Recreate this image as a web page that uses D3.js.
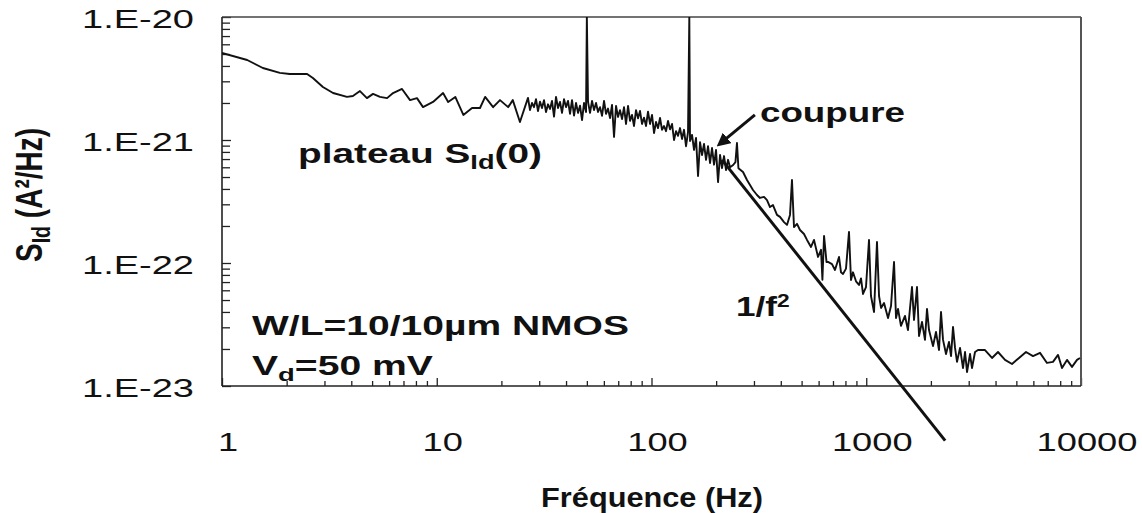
<!DOCTYPE html>
<html>
<head>
<meta charset="utf-8">
<script src="https://cdn.jsdelivr.net/npm/d3@7"></script>
<style>
  body { margin: 0; background: #fff; }
  svg text { font-family: "Liberation Sans", Arial, sans-serif; fill: #111; }
</style>
</head>
<body>
<div id="chart"></div>
<script>

// smooth start and plateau
const lowFreq = [1.00, 1.31, 1.55, 1.86, 2.07, 2.49, 2.65, 2.95, 3.29, 3.82, 4.07, 4.39, 4.73, 5.05, 5.44, 5.87,
  6.26, 6.89, 7.51, 8.09, 8.63, 9.61, 10.7, 11.3, 12.2, 13.3, 14.6, 15.9, 16.8, 18.3, 19.7, 21.5, 22.6, 24.4];
const lowSid = [5.1e-21, 4.47e-21, 3.85e-21, 3.51e-21, 3.44e-21, 3.44e-21, 3.19e-21, 2.70e-21, 2.41e-21, 2.24e-21,
  2.28e-21, 2.50e-21, 2.19e-21, 2.37e-21, 2.24e-21, 2.19e-21, 2.41e-21, 2.60e-21, 2.11e-21, 2.19e-21, 1.85e-21,
  2.04e-21, 2.41e-21, 2.04e-21, 2.24e-21, 1.60e-21, 1.82e-21, 1.82e-21, 2.24e-21, 1.85e-21, 2.11e-21, 1.85e-21,
  2.11e-21, 1.40e-21];

// noisy band up to the cut-off, with the 50 Hz and 150 Hz lines
const bandFreq = [26.60, 27.18, 27.77, 28.37, 28.98, 29.61, 30.25, 30.91, 31.58, 32.27, 32.97, 33.68, 34.41, 35.16,
  35.92, 36.70, 37.50, 38.31, 39.14, 39.99, 40.86, 41.75, 42.65, 43.58, 44.52, 45.49, 46.47, 47.48, 48.51, 49.56,
  50.00,
  50.63, 51.73, 52.85, 54.00, 55.17, 56.36, 57.59, 58.83, 60.11, 61.41, 62.74, 64.10, 65.49, 66.91, 68.36, 69.84,
  71.36, 72.90, 74.48, 76.10, 77.75, 79.43, 81.15, 82.91, 84.71, 86.55, 88.42, 90.34, 92.30, 94.30, 96.34, 98.43,
  100.56, 102.74, 104.97, 107.25, 109.57, 111.95, 114.37, 116.85, 119.39, 121.97, 124.62, 127.32, 130.08, 132.90,
  135.78, 138.72, 141.73, 144.80, 147.94,
  150.00,
  151.15, 154.42, 157.77, 161.19, 164.69, 168.26, 171.91, 175.63, 179.44, 183.33, 187.30, 191.36, 195.51, 199.75,
  204.08, 208.50, 212.92, 217.64, 222.36, 227.18, 232.10];
const bandSid = [2.20e-21, 1.75e-21, 2.00e-21, 1.85e-21, 2.15e-21, 1.72e-21, 2.05e-21, 1.82e-21, 2.11e-21, 1.69e-21,
  1.95e-21, 1.79e-21, 2.08e-21, 1.55e-21, 2.24e-21, 1.82e-21, 2.04e-21, 1.66e-21, 2.15e-21, 1.85e-21,
  2.08e-21, 1.63e-21, 2.11e-21, 1.58e-21, 2.00e-21, 1.66e-21, 1.90e-21, 1.45e-21, 2.00e-21, 1.69e-21,
  1.0e-20,
  2.04e-21, 1.66e-21, 2.08e-21, 1.75e-21, 2.00e-21, 1.69e-21, 1.85e-21, 1.57e-21, 2.08e-21, 1.63e-21,
  1.80e-21, 1.51e-21, 1.93e-21, 1.06e-21, 1.89e-21, 1.54e-21, 1.75e-21, 1.48e-21, 1.85e-21, 1.35e-21,
  1.89e-21, 1.43e-21, 1.60e-21, 1.30e-21, 1.75e-21, 1.50e-21, 1.72e-21, 1.35e-21, 1.52e-21, 1.30e-21,
  1.70e-21, 1.35e-21, 1.60e-21, 1.14e-21, 1.40e-21, 1.25e-21, 1.51e-21, 1.21e-21, 1.30e-21, 1.18e-21,
  1.43e-21, 1.22e-21, 1.35e-21, 1.00e-21, 1.18e-21, 1.08e-21, 1.25e-21, 1.02e-21, 1.21e-21, 8.9e-22,
  1.16e-21,
  1.0e-20,
  9.8e-22, 1.10e-21, 8.3e-22, 1.04e-21, 5.1e-22, 9.6e-22, 7.55e-22, 9.3e-22, 6.9e-22, 8.9e-22,
  6.5e-22, 8.6e-22, 6.3e-22, 8.3e-22, 4.55e-22, 7.55e-22, 5.9e-22, 7.4e-22, 5.7e-22, 6.9e-22,
  6.0e-22];

// roll-off above the cut-off, with mains harmonics
const rollFreq = [240, 246, 250, 254, 266.8, 278.4, 287.5, 296.9, 309.9, 320.1, 334.2, 345, 356.3, 367.9, 384,
  396.6, 414, 427.5, 441.5, 451, 460.8, 476, 491.5, 513, 529.8, 553, 571.2, 596.3, 615.7, 625, 636, 653, 663.7,
  692.7, 715.3, 746.7, 762.9, 779.4, 804.8, 831.1, 849.1, 867.5, 896, 925.2, 945.4, 965.8, 997.3, 1030, 1052,
  1087, 1122, 1147, 1172, 1210, 1263, 1304, 1347, 1376, 1406, 1451, 1515, 1564, 1633, 1669, 1723, 1761, 1818,
  1877, 1918, 1960, 2046, 2112, 2182, 2229, 2278, 2352, 2428, 2482, 2535, 2591, 2647, 2733, 2822, 2884, 2946,
  3043, 3108, 3210];
const rollSid = [6.26e-22, 6.6e-22, 9.45e-22, 5.9e-22, 5.49e-22, 4.73e-22, 4.31e-22, 3.92e-22, 3.57e-22, 3.38e-22,
  3.45e-22, 3.25e-22, 2.85e-22, 2.96e-22, 2.46e-22, 2.37e-22, 2.15e-22, 2.04e-22, 2.46e-22, 4.73e-22,
  1.96e-22, 2.08e-22, 1.855e-22, 1.72e-22, 1.54e-22, 1.35e-22, 1.54e-22, 1.12e-22, 1.28e-22, 7.3e-23,
  1.66e-22, 1.02e-22, 1.02e-22, 9.8e-23, 8.77e-23, 1.12e-22, 8.4e-23, 8.14e-23, 9.0e-23, 1.79e-22,
  7.28e-23, 8.4e-23, 7.1e-23, 6.63e-23, 7.5e-23, 5.6e-23, 6.38e-23, 1.54e-22, 5.39e-23, 4.0e-23,
  1.48e-22, 5.39e-23, 4.31e-23, 4.73e-23, 3.57e-23, 4.47e-23, 1.02e-22, 3.57e-23, 4.23e-23, 3.08e-23,
  3.71e-23, 2.85e-23, 6.38e-23, 3.44e-23, 6.38e-23, 2.55e-23, 3.32e-23, 2.37e-23, 4.23e-23, 2.85e-23,
  2.11e-23, 2.75e-23, 1.96e-23, 4.0e-23, 2.37e-23, 1.82e-23, 2.28e-23, 1.75e-23, 3.02e-23, 2.04e-23,
  1.57e-23, 2.04e-23, 1.40e-23, 1.89e-23, 1.30e-23, 1.82e-23, 1.40e-23, 1.89e-23];

// background floor
const tailFreq = [3314, 3573, 3852, 4107, 4428, 4772, 5144, 5546, 5977, 6444, 6945, 7406, 7816, 8156, 8606, 9080,
  9581, 9893];
const tailSid = [1.96e-23, 1.96e-23, 1.69e-23, 1.89e-23, 1.63e-23, 1.51e-23, 1.69e-23, 1.89e-23, 1.75e-23, 1.86e-23,
  1.54e-23, 1.57e-23, 1.79e-23, 1.40e-23, 1.63e-23, 1.43e-23, 1.63e-23, 1.69e-23];

// straight 1/f² guide line, two end points
const fitFreq = [213, 2330];
const fitSid = [6.9e-22, 3.6e-24];

// "coupure" arrow, tail then tip
const arrowFreq = [303, 208];
const arrowSid = [1.6e-21, 9.3e-22];

const xTicks = [1, 10, 100, 1000, 10000];
const xTickLabels = ["1", "10", "100", "1000", "10000"];
const yTicks = [1e-20, 1e-21, 1e-22, 1e-23];
const yTickLabels = ["1.E-20", "1.E-21", "1.E-22", "1.E-23"];

const freq = lowFreq.concat(bandFreq, rollFreq, tailFreq);
const sid = lowSid.concat(bandSid, rollSid, tailSid);

const margin = {top: 17, right: 61, bottom: 127, left: 222},
    width = 1142 - margin.left - margin.right,
    height = 513 - margin.top - margin.bottom;

const svg = d3.select("#chart")
  .append("svg")
    .attr("width", 1142)
    .attr("height", 513);

const plot = svg.append("g")
    .attr("transform", `translate(${margin.left},${margin.top})`);

const x = d3.scaleLog().domain([1, 10000]).range([0, width]);
const y = d3.scaleLog().domain([1e-23, 1e-20]).range([height, 0]);

// the scan is stretched sideways, so text gets a horizontal scale
const SX = 1.45;

function addText(parent, px, py, anchor, size, weight, build, sx, rotate) {
  const g = parent.append("g");
  const t = g.append("text")
      .attr("text-anchor", anchor)
      .style("font-size", size + "px")
      .style("font-weight", weight);
  build(t);
  const r = rotate ? ` rotate(${rotate})` : "";
  const s = rotate ? `scale(1,${sx})` : `scale(${sx},1)`;
  g.attr("transform", `translate(${px},${py})${r} ${s}`);
  return {g, t};
}

// fit a text to a given width (horizontal stretch)
function fitWidth(parent, px, py, anchor, size, weight, build, w) {
  const o = addText(parent, px, py, anchor, size, weight, build, 1);
  const bw = o.t.node().getBBox().width;
  o.g.attr("transform", `translate(${px},${py}) scale(${w / bw},1)`);
  return o;
}

// ticks, all inward
const minorX = x.ticks().filter(v => !xTicks.includes(v));
const minorY = y.ticks().filter(v => !yTicks.some(t => Math.abs(t - v) / t < 1e-6));

plot.append("g")
    .attr("transform", `translate(0,${height})`)
    .call(d3.axisBottom(x).tickValues(minorX).tickSize(-5).tickSizeOuter(0).tickFormat(""))
    .call(g => g.select(".domain").remove());
plot.append("g")
    .attr("transform", `translate(0,${height})`)
    .call(d3.axisBottom(x).tickValues(xTicks).tickSize(-8).tickSizeOuter(0).tickFormat(""))
    .call(g => g.select(".domain").remove());
plot.append("g")
    .call(d3.axisLeft(y).tickValues(minorY).tickSize(-8).tickSizeOuter(0).tickFormat(""))
    .call(g => g.select(".domain").remove());
plot.append("g")
    .call(d3.axisLeft(y).tickValues(yTicks).tickSize(-9).tickSizeOuter(0).tickFormat(""))
    .call(g => g.select(".domain").remove());
plot.selectAll(".tick line").attr("stroke", "#222").attr("stroke-width", 1.3);

// frame
plot.append("line").attr("x1", 0).attr("x2", width).attr("y1", 0).attr("y2", 0)
    .attr("stroke", "#444").attr("stroke-width", 1.4);
plot.append("line").attr("x1", width).attr("x2", width).attr("y1", 0).attr("y2", height)
    .attr("stroke", "#555").attr("stroke-width", 2);
plot.append("line").attr("x1", 0).attr("x2", 0).attr("y1", 0).attr("y2", height)
    .attr("stroke", "#222").attr("stroke-width", 1.6);
plot.append("line").attr("x1", 0).attr("x2", width).attr("y1", height).attr("y2", height)
    .attr("stroke", "#222").attr("stroke-width", 1.6);

// tick labels
xTicks.forEach((v, i) => {
  addText(svg, margin.left + x(v) + 6, 451, "middle", 25, "normal",
    t => t.text(xTickLabels[i]), SX);
});
yTicks.forEach((v, i) => {
  addText(svg, 194, margin.top + y(v) + 11, "end", 25, "normal",
    t => t.text(yTickLabels[i]), 1.52);
});

// spectrum curve
plot.append("clipPath").attr("id", "clip")
  .append("rect").attr("width", width).attr("height", height);

const line = d3.line()
    .x(d => x(d[0]))
    .y(d => y(d[1]));

plot.append("path")
    .datum(d3.zip(freq, sid))
    .attr("clip-path", "url(#clip)")
    .attr("fill", "none")
    .attr("stroke", "#111")
    .attr("stroke-width", 1.9)
    .attr("stroke-linejoin", "round")
    .attr("d", line);

// 1/f² guide (runs past the bottom axis)
plot.append("path")
    .datum(d3.zip(fitFreq, fitSid))
    .attr("fill", "none")
    .attr("stroke", "#111")
    .attr("stroke-width", 3)
    .attr("d", line);

// arrow
svg.append("defs").append("marker")
    .attr("id", "head")
    .attr("viewBox", "0 0 10 10")
    .attr("refX", 7).attr("refY", 5)
    .attr("markerWidth", 4.5).attr("markerHeight", 4.5)
    .attr("orient", "auto")
  .append("path").attr("d", "M0,0 L10,5 L0,10 z").attr("fill", "#111");

plot.append("path")
    .datum(d3.zip(arrowFreq, arrowSid))
    .attr("fill", "none")
    .attr("stroke", "#111")
    .attr("stroke-width", 3)
    .attr("marker-end", "url(#head)")
    .attr("d", line);

// annotations
function sub(t, s) {
  t.append("tspan").attr("dy", 6).style("font-size", "70%").text(s);
}
fitWidth(svg, 298, 163, "start", 28, "bold", t => {
  t.append("tspan").text("plateau S");
  sub(t, "Id");
  t.append("tspan").attr("dy", -6).text("(0)");
}, 244);
fitWidth(svg, 760, 122, "start", 28, "bold", t => t.text("coupure"), 145);
fitWidth(svg, 252, 335, "start", 27, "bold", t => t.text("W/L=10/10µm NMOS"), 377);
fitWidth(svg, 252, 375, "start", 27, "bold", t => {
  t.append("tspan").text("V");
  sub(t, "d");
  t.append("tspan").attr("dy", -6).text("=50 mV");
}, 181);
fitWidth(svg, 736, 316, "start", 27, "bold", t => {
  t.append("tspan").text("1/f");
  t.append("tspan").attr("dy", -9).style("font-size", "65%").text("2");
}, 54);

// axis titles
fitWidth(svg, 652, 507, "middle", 27, "bold", t => t.text("Fréquence (Hz)"), 222);
addText(svg, 42, 195, "middle", 28, "bold", t => {
  t.append("tspan").text("S");
  sub(t, "Id");
  t.append("tspan").attr("dy", -6).text(" (A²/Hz)");
}, 1.35, -90);
</script>
</body>
</html>
